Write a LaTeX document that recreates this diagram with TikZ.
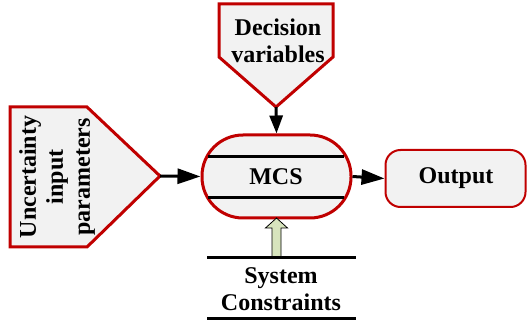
\documentclass[tikz,border=0pt]{standalone}
\usepackage{fontspec}
\setmainfont{Liberation Serif}
\usetikzlibrary{arrows.meta,calc}
\definecolor{boxred}{HTML}{C00000}
\definecolor{boxfill}{HTML}{F2F2F2}
\definecolor{upgreen}{HTML}{D7E4BD}
\tikzset{
  lbl/.style={font=\fontsize{24}{27}\selectfont\bfseries, align=center, inner sep=0pt},
  redshape/.style={draw=boxred, fill=boxfill, line width=3pt, line join=miter},
  flow/.style={draw=black, line width=3pt, -{Triangle[length=23pt,width=15pt]}},
  bar/.style={draw=black, line width=3pt},
}
\begin{document}
\begin{tikzpicture}[x=1pt,y=-1pt]
\useasboundingbox (0,0) rectangle (527,320);

% uncertainty input pentagon (pointing right)
\draw[redshape] (10,107) -- (87,107) -- (160,176) -- (87,247) -- (10,247) -- cycle;
\coordinate (uip) at (160,176);
\node[lbl, rotate=90] (unc) at (57,177) {Uncertainty\\input\\parameters};

% decision variables pentagon (pointing down)
\draw[redshape] (219,4) -- (333,4) -- (333,57) -- (276,107) -- (219,57) -- cycle;
\coordinate (dvp) at (276,107);
\node[lbl] (dec) at (278,41) {Decision\\variables};

% MCS stadium with two inner bars
\node[draw=boxred, fill=boxfill, line width=3pt, rounded corners=41pt,
      minimum width=149pt, minimum height=83pt, inner sep=0pt] (mcs) at (276.5,176.5) {};
\node[lbl] (mcst) at (276,177) {MCS};
\coordinate (bl1) at (208,157); \coordinate (br1) at (344,157);
\coordinate (bl2) at (208,198); \coordinate (br2) at (344,198);
\draw[bar] (bl1) -- (br1);
\draw[bar] (bl2) -- (br2);

% output box
\node[draw=boxred, fill=boxfill, line width=2pt, rounded corners=15pt,
      minimum width=140pt, minimum height=57pt, inner sep=0pt] (out) at (455.5,178.5) {};
\node[lbl] (outt) at (456,178) {Output};

% system constraints
\coordinate (sl1) at (207,258); \coordinate (sr1) at (356,258);
\coordinate (sl2) at (207,318); \coordinate (sr2) at (356,318);
\draw[bar] (sl1) -- (sr1);
\draw[bar] (sl2) -- (sr2);
\node[lbl] (sys) at (281,289) {System\\Constraints};

% connectors
\draw[flow] (uip) -- (mcs.west);
\draw[flow] (mcs.east) -- (out.west);
\draw[draw=black, line width=3pt, -{Triangle[length=18pt,width=13pt]}] (dvp) -- (mcs.north);

% hollow upward arrow from constraints to MCS
\coordinate (gbase) at (276.5,256.5);
\coordinate (gtip) at (276.5,218);
\draw[fill=upgreen, draw=black, line width=0.8pt, line join=miter]
  ($(gbase)+(-4.5,0)$) -- ($(gtip)+(-4.5,10)$) -- ($(gtip)+(-11,10)$) -- (gtip)
  -- ($(gtip)+(11,10)$) -- ($(gtip)+(4.5,10)$) -- ($(gbase)+(4.5,0)$) -- cycle;
\end{tikzpicture}
\end{document}
